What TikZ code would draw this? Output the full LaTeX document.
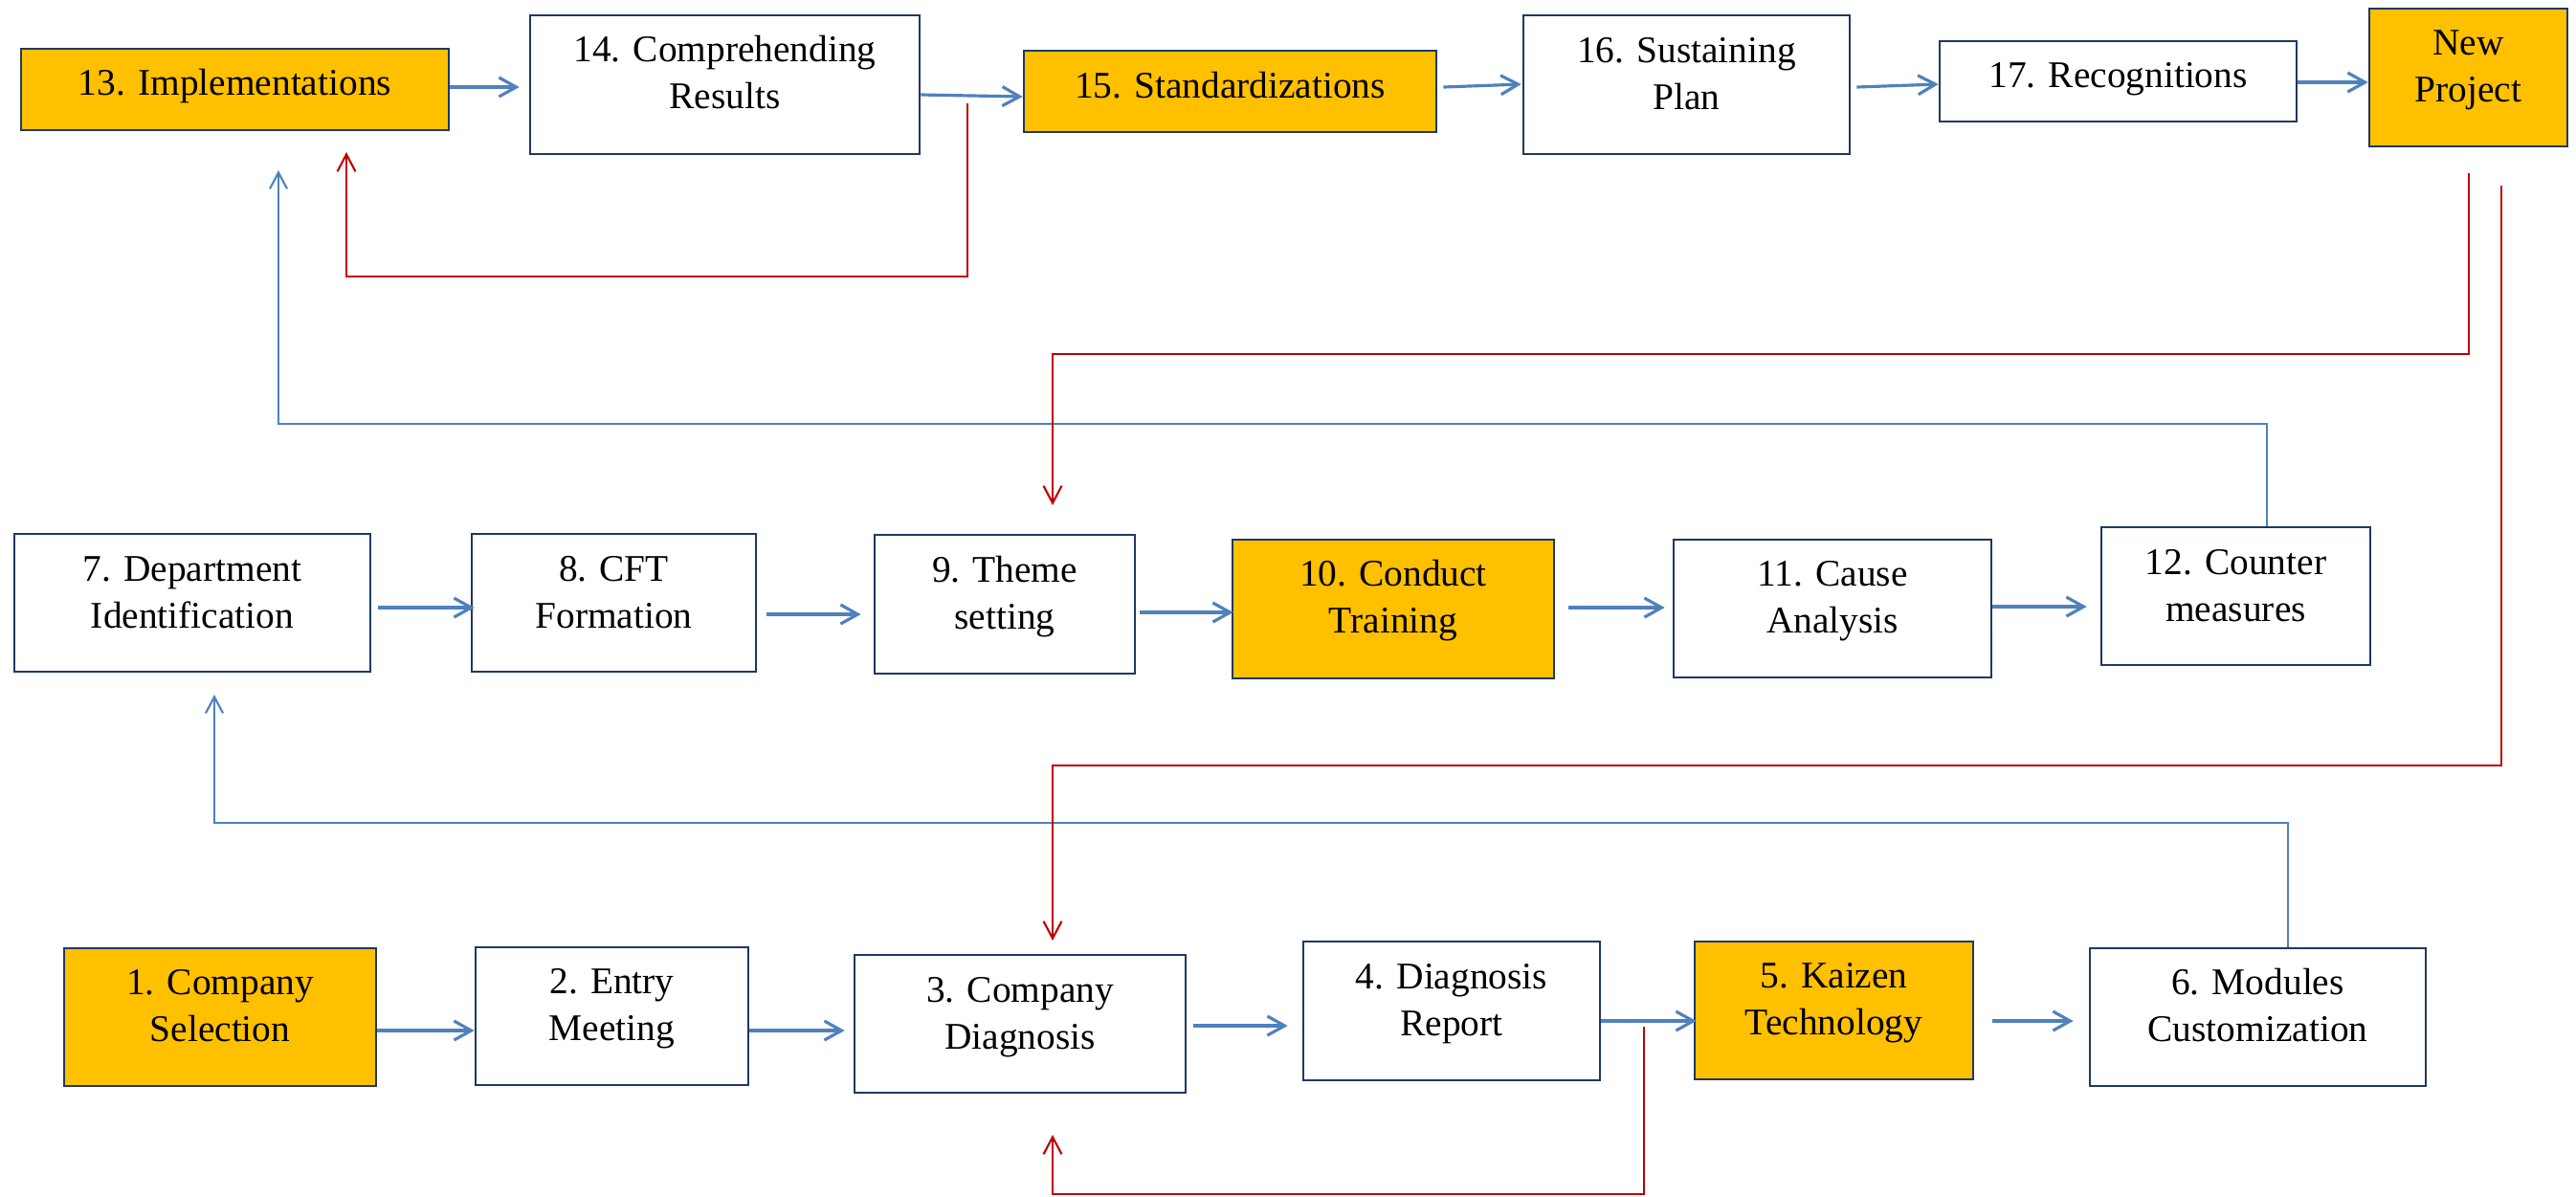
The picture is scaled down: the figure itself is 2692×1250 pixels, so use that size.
\documentclass[tikz,border=0pt]{standalone}
\usepackage{fontspec}
\setmainfont{Liberation Serif}
\usetikzlibrary{arrows.meta,fit}
\definecolor{boxorange}{HTML}{FFC000}
\definecolor{boxline}{HTML}{1F3864}
\definecolor{flowblue}{HTML}{4F81BD}
\definecolor{loopred}{HTML}{C00000}
\tikzset{
  bx/.style={draw=boxline, line width=0.75pt, fill=white, inner sep=0pt, rectangle},
  obx/.style={bx, fill=boxorange},
  lbl/.style={anchor=base, align=center, inner sep=0pt, font=\fontsize{11.2pt}{13.9pt}\selectfont},
  arr/.style={draw=flowblue, line width=0.9pt, -{Straight Barb[length=1.8mm,width=2mm]}},
  fb/.style={draw=flowblue, line width=0.6pt, -{Straight Barb[length=1.7mm,width=1.8mm]}},
  fbr/.style={draw=loopred, line width=0.6pt, -{Straight Barb[length=1.8mm,width=1.9mm]}},
}
\begin{document}
\begin{tikzpicture}[x=0.01cm, y=-0.01cm]
\useasboundingbox (0,0) rectangle (2692,1250);
\fill[white] (0,0) rectangle (2692,1250);

% ---- boxes ----
\node[obx, fit={(22,51) (469,136)}] (n13) {};
\node[bx,  fit={(554,16) (961,161)}] (n14) {};
\node[obx, fit={(1070,53) (1501,138)}] (n15) {};
\node[bx,  fit={(1592,16) (1933,161)}] (n16) {};
\node[bx,  fit={(2027,43) (2400,127)}] (n17) {};
\node[obx, fit={(2476,9) (2683,153)}] (nNP) {};

\node[bx,  fit={(15,558) (387,702)}] (n7) {};
\node[bx,  fit={(493,558) (790,702)}] (n8) {};
\node[bx,  fit={(914,559) (1186,704)}] (n9) {};
\node[obx, fit={(1288,564) (1624,709)}] (n10) {};
\node[bx,  fit={(1749,564) (2081,708)}] (n11) {};
\node[bx,  fit={(2196,551) (2477,695)}] (n12) {};

\node[obx, fit={(67,991) (393,1135)}] (n1) {};
\node[bx,  fit={(497,990) (782,1134)}] (n2) {};
\node[bx,  fit={(893,998) (1239,1142)}] (n3) {};
\node[bx,  fit={(1362,984) (1672,1129)}] (n4) {};
\node[obx, fit={(1771,984) (2062,1128)}] (n5) {};
\node[bx,  fit={(2184,991) (2535,1135)}] (n6) {};

% ---- texts (anchored on the baseline of their last line) ----
\node[lbl] (t13) at (245.5,99) {13. Implementations};
\node[lbl] (t14) at (757.5,113) {14. Comprehending\\Results};
\node[lbl] (t15) at (1285.5,102) {15. Standardizations};
\node[lbl] (t16) at (1762.5,114) {16. Sustaining\\Plan};
\node[lbl] (t17) at (2213.5,91) {17. Recognitions};
\node[lbl] (tNP) at (2579.5,106) {New\\Project};

\node[lbl] (t7) at (201,656) {7. Department\\Identification};
\node[lbl] (t8) at (641.5,656) {8. CFT\\Formation};
\node[lbl] (t9) at (1050,657) {9. Theme\\setting};
\node[lbl] (t10) at (1456,661) {10. Conduct\\Training};
\node[lbl] (t11) at (1915,661) {11. Cause\\Analysis};
\node[lbl] (t12) at (2336.5,649) {12. Counter\\measures};

\node[lbl] (t1) at (230,1088) {1. Company\\Selection};
\node[lbl] (t2) at (639.5,1087) {2. Entry\\Meeting};
\node[lbl] (t3) at (1066,1096) {3. Company\\Diagnosis};
\node[lbl] (t4) at (1517,1082) {4. Diagnosis\\Report};
\node[lbl] (t5) at (1916.5,1081) {5. Kaizen\\Technology};
\node[lbl] (t6) at (2359.5,1088) {6. Modules\\Customization};

% ---- main flow arrows ----
\draw[arr] ([shift={(0,-2.5)}]n13.east) -- ([shift={(-10,2.5)}]n14.west);
\draw[arr] ([shift={(0,10.5)}]n14.east) -- ([shift={(0,5.5)}]n15.west);
\draw[arr] ([shift={(6,-4.5)}]n15.east) -- ([shift={(-1,-0.5)}]n16.west);
\draw[arr] ([shift={(6,2.5)}]n16.east) -- ([shift={(0,3)}]n17.west);
\draw[arr] ([shift={(0,1)}]n17.east) -- ([shift={(0,5)}]nNP.west);

\draw[arr] ([shift={(7,5)}]n7.east) -- ([shift={(4,5)}]n8.west);
\draw[arr] ([shift={(10,12)}]n8.east) -- ([shift={(-13,10.5)}]n9.west);
\draw[arr] ([shift={(4,8.5)}]n9.east) -- ([shift={(2,3.5)}]n10.west);
\draw[arr] ([shift={(14,-1.5)}]n10.east) -- ([shift={(-8,-1)}]n11.west);
\draw[arr] ([shift={(0,-2)}]n11.east) -- ([shift={(-14,11)}]n12.west);

\draw[arr] ([shift={(0,14)}]n1.east) -- ([shift={(0,15)}]n2.west);
\draw[arr] ([shift={(0,15)}]n2.east) -- ([shift={(-9,7)}]n3.west);
\draw[arr] ([shift={(7,2)}]n3.east) -- ([shift={(-15,15.5)}]n4.west);
\draw[arr] ([shift={(0,10.5)}]n4.east) -- ([shift={(3,11)}]n5.west);
\draw[arr] ([shift={(19,11)}]n5.east) -- ([shift={(-16,4)}]n6.west);

% ---- feedback connectors ----
\coordinate (e13b) at (291,178);
\coordinate (e7) at (224,726);
\coordinate (r14) at (1011,108);
\coordinate (e13r) at (362,159);
\coordinate (e9) at (1100,528);
\coordinate (e3t) at (1100,983);
\coordinate (r4) at (1718,1073);
\coordinate (e3b) at (1100,1186);

\draw[fb] ([shift={(32.5,0)}]n12.north) -- ++(0,-107) -| (e13b);
\draw[fb] ([shift={(31.5,0)}]n6.north) -- ++(0,-130) -| (e7);

\draw[fbr] (r14) -- ++(0,181) -| (e13r);
\draw[fbr] ([shift={(0.5,27)}]nNP.south) -- ++(0,189) -| (e9);
\draw[fbr] ([shift={(34.5,40)}]nNP.south) -- ++(0,606) -| (e3t);
\draw[fbr] (r4) -- ++(0,175) -| (e3b);
\end{tikzpicture}
\end{document}
